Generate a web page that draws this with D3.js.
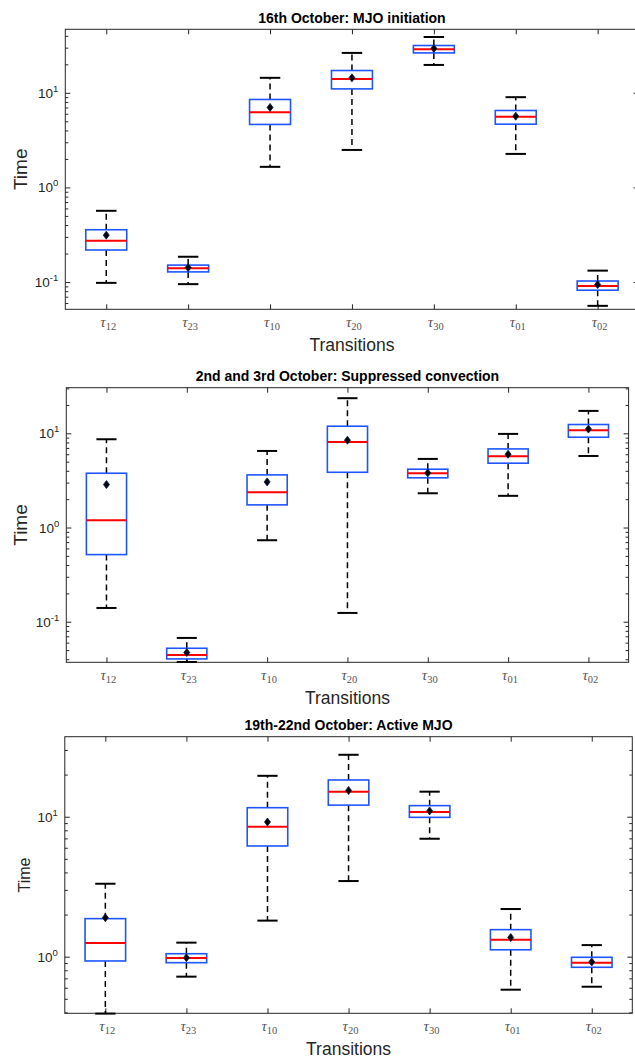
<!DOCTYPE html>
<html>
<head>
<meta charset="utf-8">
<script src="https://cdn.jsdelivr.net/npm/d3@7"></script>
<style>
body { margin: 0; background: #fff; }
text { font-family: "Liberation Sans", Arial, Helvetica, sans-serif; }
</style>
</head>
<body>
<script>
//transition subscripts (x categories)
var transitions = ["12", "23", "10", "20", "30", "01", "02"];

var titles = [
    "16th October: MJO initiation",
    "2nd and 3rd October: Suppressed convection",
    "19th-22nd October: Active MJO"
];

//panel 1: 16th October
var p1Lower  = [0.098, 0.095, 1.65, 2.49, 19.7, 2.26, 0.056];
var p1Q1     = [0.218, 0.128, 4.63, 11.0, 26.4, 4.66, 0.082];
var p1Median = [0.273, 0.140, 6.24, 14.0, 28.9, 5.57, 0.091];
var p1Q3     = [0.357, 0.151, 8.50, 17.2, 31.6, 6.50, 0.1025];
var p1Upper  = [0.566, 0.185, 14.4, 26.4, 38.9, 8.99, 0.132];
var p1Mean   = [0.313, 0.142, 7.00, 14.4, 29.4, 5.66, 0.094];

//panel 2: 2nd and 3rd October
var p2Lower  = [0.140, 0.0374, 0.733, 0.124, 2.31, 2.17, 5.75];
var p2Q1     = [0.516, 0.0403, 1.74, 3.86, 3.37, 4.82, 9.09];
var p2Median = [1.195, 0.0444, 2.37, 8.11, 3.77, 5.71, 10.8];
var p2Q3     = [3.77, 0.0523, 3.62, 11.9, 4.16, 6.83, 12.4];
var p2Upper  = [8.65, 0.0673, 6.50, 23.6, 5.35, 9.86, 17.3];
var p2Mean   = [2.86, 0.0471, 3.05, 8.45, 3.80, 6.00, 11.1];

//panel 3: 19th-22nd October
var p3Lower  = [0.392, 0.72, 1.81, 3.47, 6.96, 0.581, 0.61];
var p3Q1     = [0.932, 0.906, 6.18, 12.1, 9.9, 1.12, 0.84];
var p3Median = [1.25, 0.98, 8.49, 15.1, 10.8, 1.32, 0.906];
var p3Q3     = [1.87, 1.05, 11.6, 18.3, 12.0, 1.56, 0.99];
var p3Upper  = [3.32, 1.26, 19.6, 27.7, 15.1, 2.19, 1.21];
var p3Mean   = [1.90, 0.984, 9.17, 15.4, 11.0, 1.37, 0.917];

//major y tick values per panel
var p1YTicks = [0.1, 1, 10];
var p2YTicks = [0.1, 1, 10];
var p3YTicks = [1, 10];

//y axis limits per panel
var p1YLimits = [0.0515, 46.9];
var p2YLimits = [0.0371, 30.5];
var p3YLimits = [0.394, 37.3];

function stats(lower, q1, median, q3, upper, mean){
    return transitions.map(function(t, i){
        return {t: t, lo: lower[i], q1: q1[i], med: median[i], q3: q3[i], hi: upper[i], mean: mean[i]};
    });
}

var panels = [
    {data: stats(p1Lower, p1Q1, p1Median, p1Q3, p1Upper, p1Mean), ticks: p1YTicks, lim: p1YLimits,
     left: 65.3, right: 638.6, top: 29.3, bottom: 309.3, ySize: 19},
    {data: stats(p2Lower, p2Q1, p2Median, p2Q3, p2Upper, p2Mean), ticks: p2YTicks, lim: p2YLimits,
     left: 66.3, right: 628.6, top: 387.7, bottom: 662.3, ySize: 19},
    {data: stats(p3Lower, p3Q1, p3Median, p3Q3, p3Upper, p3Mean), ticks: p3YTicks, lim: p3YLimits,
     left: 64.8, right: 632.3, top: 736.7, bottom: 1013.3, ySize: 16}
];

var svg = d3.select("body").append("svg")
    .attr("width", 635)
    .attr("height", 1059);

var axisColor = "#262626";

panels.forEach(function(p, pi){
    var g = svg.append("g");

    var x = d3.scalePoint()
        .domain(transitions)
        .range([p.left, p.right])
        .padding(0.5);
    var step = x.step();

    var y = d3.scaleLog()
        .domain(p.lim)
        .range([p.bottom, p.top]);

    //minor ticks 2..9 for each decade inside the limits
    var minor = [];
    for (var e = -3; e <= 2; e++){
        for (var m = 2; m <= 9; m++){
            var v = m * Math.pow(10, e);
            if (v > p.lim[0] && v < p.lim[1]) minor.push(v);
        }
    }

    //x ticks, bottom and top (pointing inward)
    g.append("g")
        .attr("transform", "translate(0," + p.bottom + ")")
        .call(d3.axisBottom(x).tickSize(-5).tickFormat(""));
    g.append("g")
        .attr("transform", "translate(0," + p.top + ")")
        .call(d3.axisTop(x).tickSize(-5).tickFormat(""));

    //y ticks, major and minor, left and right
    g.append("g")
        .attr("transform", "translate(" + p.left + ",0)")
        .call(d3.axisLeft(y).tickValues(p.ticks).tickSize(-5).tickFormat(""));
    g.append("g")
        .attr("transform", "translate(" + p.left + ",0)")
        .call(d3.axisLeft(y).tickValues(minor).tickSize(-3).tickFormat(""));
    g.append("g")
        .attr("transform", "translate(" + p.right + ",0)")
        .call(d3.axisRight(y).tickValues(p.ticks).tickSize(-5).tickFormat(""));
    g.append("g")
        .attr("transform", "translate(" + p.right + ",0)")
        .call(d3.axisRight(y).tickValues(minor).tickSize(-3).tickFormat(""));

    g.selectAll(".domain").remove();
    g.selectAll(".tick line").attr("stroke", axisColor);

    //frame
    g.append("rect")
        .attr("x", p.left)
        .attr("y", p.top)
        .attr("width", p.right - p.left)
        .attr("height", p.bottom - p.top)
        .attr("fill", "none")
        .attr("stroke", axisColor)
        .attr("stroke-width", 1);

    //y tick labels 10^k
    var yl = g.selectAll(".ylab")
        .data(p.ticks)
        .enter()
        .append("text")
        .attr("class", "ylab")
        .attr("text-anchor", "end")
        .attr("x", p.left - 7)
        .attr("y", function(d){ return y(d) + 5; })
        .attr("fill", axisColor)
        .style("font-size", "13.5px");
    yl.append("tspan").text("10");
    yl.append("tspan")
        .attr("dy", -6)
        .style("font-size", "9.5px")
        .text(function(d){ return Math.round(Math.log10(d)); });

    //x tick labels tau_ij
    var xl = g.selectAll(".xlab")
        .data(transitions)
        .enter()
        .append("text")
        .attr("class", "xlab")
        .attr("x", function(d){ return x(d) - 6; })
        .attr("y", p.bottom + 18)
        .attr("fill", "#555")
        .style("font-family", "'Liberation Serif', 'DejaVu Serif', serif");
    xl.append("tspan")
        .style("font-style", "italic")
        .style("font-size", "15px")
        .text("\u03c4");
    xl.append("tspan")
        .attr("dy", 3)
        .style("font-size", "10.5px")
        .text(function(d){ return d; });

    //title
    g.append("text")
        .attr("x", (p.left + p.right) / 2)
        .attr("y", p.top - 6.5)
        .attr("text-anchor", "middle")
        .style("font-size", "14px")
        .style("font-weight", "bold")
        .attr("fill", "#000")
        .text(titles[pi]);

    //x label
    g.append("text")
        .attr("x", (p.left + p.right) / 2)
        .attr("y", p.bottom + 42)
        .attr("text-anchor", "middle")
        .style("font-size", "17.5px")
        .attr("fill", axisColor)
        .text("Transitions");

    //y label
    g.append("text")
        .attr("transform", "translate(" + (p.ySize > 17 ? 26.5 : 29.5) + "," + ((p.top + p.bottom) / 2) + ") rotate(-90)")
        .attr("text-anchor", "middle")
        .style("font-size", p.ySize + "px")
        .attr("fill", axisColor)
        .text("Time");

    //boxes
    var box = g.selectAll(".box")
        .data(p.data)
        .enter()
        .append("g")
        .attr("class", "box");

    //dashed whiskers
    box.append("line")
        .attr("x1", function(d){ return x(d.t); })
        .attr("x2", function(d){ return x(d.t); })
        .attr("y1", function(d){ return y(d.q3); })
        .attr("y2", function(d){ return y(d.hi); })
        .attr("stroke", "#000")
        .attr("stroke-width", 1.5)
        .attr("stroke-dasharray", "6,4");
    box.append("line")
        .attr("x1", function(d){ return x(d.t); })
        .attr("x2", function(d){ return x(d.t); })
        .attr("y1", function(d){ return y(d.q1); })
        .attr("y2", function(d){ return y(d.lo); })
        .attr("stroke", "#000")
        .attr("stroke-width", 1.5)
        .attr("stroke-dasharray", "6,4");

    //whisker caps
    ["hi", "lo"].forEach(function(k){
        box.append("line")
            .attr("x1", function(d){ return x(d.t) - step / 8; })
            .attr("x2", function(d){ return x(d.t) + step / 8; })
            .attr("y1", function(d){ return y(d[k]); })
            .attr("y2", function(d){ return y(d[k]); })
            .attr("stroke", "#000")
            .attr("stroke-width", 2);
    });

    //interquartile box
    box.append("rect")
        .attr("x", function(d){ return x(d.t) - step / 4; })
        .attr("width", step / 2)
        .attr("y", function(d){ return y(d.q3); })
        .attr("height", function(d){ return y(d.q1) - y(d.q3); })
        .attr("fill", "#fff")
        .attr("stroke", "#1f55ff")
        .attr("stroke-width", 1.6);

    //median
    box.append("line")
        .attr("x1", function(d){ return x(d.t) - step / 4; })
        .attr("x2", function(d){ return x(d.t) + step / 4; })
        .attr("y1", function(d){ return y(d.med); })
        .attr("y2", function(d){ return y(d.med); })
        .attr("stroke", "#ff0000")
        .attr("stroke-width", 2);

    //mean marker
    box.append("path")
        .attr("d", "M0,-4L3,0L0,4L-3,0Z")
        .attr("transform", function(d){ return "translate(" + x(d.t) + "," + y(d.mean) + ")"; })
        .attr("fill", "#000")
        .attr("stroke", "#001a4d")
        .attr("stroke-width", 0.8);
});
</script>
</body>
</html>
